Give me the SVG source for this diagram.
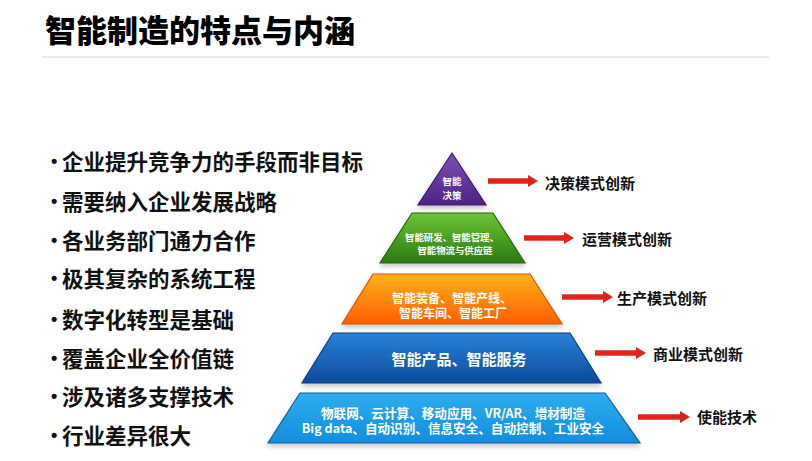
<svg xmlns="http://www.w3.org/2000/svg" width="812" height="461" viewBox="0 0 812 461">
  <defs>
    <linearGradient id="gPurple" x1="0" y1="0" x2="0" y2="1">
      <stop offset="0" stop-color="#7d4fb5"/>
      <stop offset="1" stop-color="#4e2384"/>
    </linearGradient>
    <linearGradient id="gGreen" x1="0" y1="0" x2="0" y2="1">
      <stop offset="0" stop-color="#6cc634"/>
      <stop offset="1" stop-color="#2b7a12"/>
    </linearGradient>
    <linearGradient id="gOrange" x1="0" y1="0" x2="0" y2="1">
      <stop offset="0" stop-color="#ffb21a"/>
      <stop offset="1" stop-color="#ff5e00"/>
    </linearGradient>
    <linearGradient id="gBlue" x1="0" y1="0" x2="0" y2="1">
      <stop offset="0" stop-color="#2a82d8"/>
      <stop offset="1" stop-color="#0a4a9e"/>
    </linearGradient>
    <linearGradient id="gSky" x1="0" y1="0" x2="0" y2="1">
      <stop offset="0" stop-color="#2eaef0"/>
      <stop offset="1" stop-color="#118ddd"/>
    </linearGradient>
    <filter id="shadow" x="-10%" y="-20%" width="120%" height="150%">
      <feDropShadow dx="0" dy="3" stdDeviation="2.5" flood-color="#000" flood-opacity="0.22"/>
    </filter>
    <marker id="redHead" viewBox="0 0 10 12" refX="0" refY="6" markerWidth="10" markerHeight="12" markerUnits="userSpaceOnUse" orient="auto">
      <path d="M0,0 L10,6 L0,12 Z" fill="#e0231a"/>
    </marker>
    <style>
      .title { font-family: "Noto Sans CJK SC", "Liberation Sans", sans-serif; font-size: 31px; font-weight: 900; fill: #000; }
      .bullet { font-family: "Noto Sans CJK SC", "Liberation Sans", sans-serif; font-size: 21.5px; font-weight: 700; fill: #111; }
      .dot { font-family: "Liberation Sans", sans-serif; font-size: 18px; font-weight: 700; fill: #111; }
      .lbl { font-family: "Noto Sans CJK SC", "Liberation Sans", sans-serif; font-size: 15px; font-weight: 700; fill: #111; }
      .inner { font-family: "Noto Sans CJK SC", "Liberation Sans", sans-serif; fill: #fff; font-weight: 700; text-anchor: middle; }
      .layer { filter: url(#shadow); stroke-width: 1.2; }
      .arrow { stroke: #e0231a; stroke-width: 5.5; fill: none; marker-end: url(#redHead); }
    </style>
  </defs>

  <rect x="0" y="0" width="812" height="461" fill="#ffffff"/>

  <g id="title">
    <text class="title" x="45" y="28" dominant-baseline="central">智能制造的特点与内涵</text>
    <line x1="42" y1="57" x2="769" y2="57" stroke="#e3e3e3" stroke-width="1.5"/>
  </g>

  <g id="bullets">
    <text class="dot" x="51" y="161" dominant-baseline="central">•</text>
    <text class="bullet" x="62" y="160" dominant-baseline="central">企业提升竞争力的手段而非目标</text>
    <text class="dot" x="51" y="201" dominant-baseline="central">•</text>
    <text class="bullet" x="62" y="200" dominant-baseline="central">需要纳入企业发展战略</text>
    <text class="dot" x="51" y="240" dominant-baseline="central">•</text>
    <text class="bullet" x="62" y="239" dominant-baseline="central">各业务部门通力合作</text>
    <text class="dot" x="51" y="278" dominant-baseline="central">•</text>
    <text class="bullet" x="62" y="277" dominant-baseline="central">极其复杂的系统工程</text>
    <text class="dot" x="51" y="319" dominant-baseline="central">•</text>
    <text class="bullet" x="62" y="318" dominant-baseline="central">数字化转型是基础</text>
    <text class="dot" x="51" y="358" dominant-baseline="central">•</text>
    <text class="bullet" x="62" y="357" dominant-baseline="central">覆盖企业全价值链</text>
    <text class="dot" x="51" y="396" dominant-baseline="central">•</text>
    <text class="bullet" x="62" y="395" dominant-baseline="central">涉及诸多支撑技术</text>
    <text class="dot" x="51" y="435" dominant-baseline="central">•</text>
    <text class="bullet" x="62" y="434" dominant-baseline="central">行业差异很大</text>
  </g>

  <g id="layer-decision">
    <polygon class="layer" points="452,153 486,205 418,205" fill="url(#gPurple)" stroke="#3e1a6a"/>
    <text class="inner" font-size="9.5" dominant-baseline="central"><tspan x="452" y="181">智能</tspan><tspan x="452" y="195">决策</tspan></text>
  </g>

  <g id="layer-operation">
    <polygon class="layer" points="412,213 493,213 525,263 380,263" fill="url(#gGreen)" stroke="#23650e"/>
    <text class="inner" font-size="9.4" dominant-baseline="central"><tspan x="452" y="237">智能研发、智能管理、</tspan><tspan x="455" y="250">智能物流与供应链</tspan></text>
  </g>

  <g id="layer-production">
    <polygon class="layer" points="373,274 530,274 562,324 342,324" fill="url(#gOrange)" stroke="#e05000"/>
    <text class="inner" font-size="12" dominant-baseline="central"><tspan x="452" y="297">智能装备、智能产线、</tspan><tspan x="453" y="312">智能车间、智能工厂</tspan></text>
  </g>

  <g id="layer-business">
    <polygon class="layer" points="333,333 570,333 601,383 302,383" fill="url(#gBlue)" stroke="#083d85"/>
    <text class="inner" x="459" y="358" font-size="15" dominant-baseline="central">智能产品、智能服务</text>
  </g>

  <g id="layer-enabling">
    <polygon class="layer" points="300,393 605,393 640,443 268,443" fill="url(#gSky)" stroke="#1a5e98"/>
    <text class="inner" font-size="12.6" font-weight="500" dominant-baseline="central"><tspan x="453" y="412">物联网、云计算、移动应用、VR/AR、增材制造</tspan><tspan x="453" y="427">Big data、自动识别、信息安全、自动控制、工业安全</tspan></text>
  </g>

  <g id="connectors">
    <line class="arrow" x1="488" y1="181" x2="528" y2="181"/>
    <line class="arrow" x1="524" y1="238" x2="564" y2="238"/>
    <line class="arrow" x1="562" y1="297" x2="603" y2="297"/>
    <line class="arrow" x1="595" y1="353" x2="636" y2="353"/>
    <line class="arrow" x1="638" y1="417" x2="680" y2="417"/>
  </g>

  <g id="labels">
    <text class="lbl" x="545" y="182" dominant-baseline="central">决策模式创新</text>
    <text class="lbl" x="582" y="238" dominant-baseline="central">运营模式创新</text>
    <text class="lbl" x="617" y="297" dominant-baseline="central">生产模式创新</text>
    <text class="lbl" x="653" y="353" dominant-baseline="central">商业模式创新</text>
    <text class="lbl" x="697" y="416" dominant-baseline="central">使能技术</text>
  </g>
</svg>
